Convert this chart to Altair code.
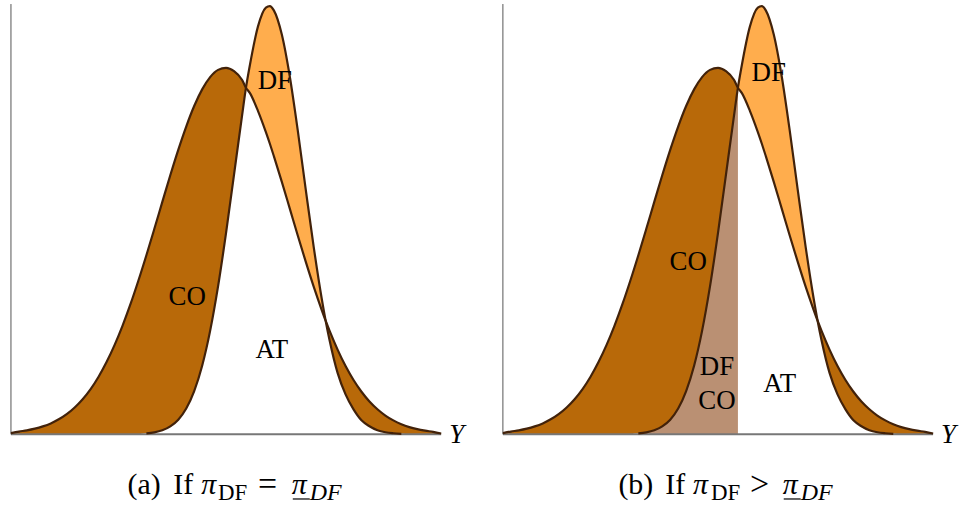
import altair as alt
import pandas as pd

# ---- data (horizontal position along Y, curve heights) ----
xs = [0, 8, 16, 24, 32, 40, 48, 56, 64, 72, 80, 88, 96, 104, 112, 120, 128, 136,
      144, 152, 160, 168, 176, 184, 192, 200, 208, 216, 224, 232, 236, 240, 248,
      256, 260, 264, 272, 280, 288, 296, 304, 312, 316, 320, 328, 336, 344, 352,
      360, 368, 376, 384, 392, 400, 408, 416, 424, 432]

# wide curve (compliers + always-takers density)
wide_curve = [1.2, 2.7, 3.9, 5.6, 7.9, 10.9, 15.0, 20.2, 26.9, 35.2, 45.4, 57.8,
              72.5, 89.5, 108.9, 130.6, 154.4, 179.8, 206.3, 233.3, 260.1, 285.6,
              309.0, 329.6, 346.3, 358.6, 365.9, 368.0, 364.6, 356.0, 348.0, 342.5,
              324.8, 303.4, 291.7, 279.3, 253.5, 226.6, 199.6, 173.3, 148.2, 125.0,
              114.0, 103.8, 85.0, 68.5, 54.5, 42.7, 32.9, 25.1, 18.8, 13.9, 10.1,
              7.2, 5.1, 3.6, 2.4, 0.8]

# narrow curve (defiers + always-takers density)
narrow_curve = [0, 0, 0, 0, 0, 0, 0, 0, 0, 0, 0, 0, 0, 0, 0, 0, 0, 0.9,
                1.9, 4.0, 7.9, 14.6, 25.8, 43.3, 68.8, 103.8, 148.7, 202.2, 260.8,
                319.4, 348.0, 371.1, 409.3, 428.4, 430.0, 425.6, 401.3, 359.2,
                305.1, 245.9, 188.2, 136.6, 114.0, 94.2, 61.6, 40.0, 25.0, 14.0,
                8.0, 4.0, 2.0, 1.0, 0.4, 0, 0, 0, 0, 0]

cutoff = 236  # crossing of the curves (used in panel b)
y_top = 432   # top of the vertical axis

labels_a = ["DF", "CO", "AT"]
labels_b = ["DF", "CO", "DF", "CO", "AT"]
axis_label = "Y"

BROWN = "#b86909"
ORANGE = "#ffad4d"
TAN = "#ba9073"
STROKE = "#42220a"
FONT = "Liberation Serif, DejaVu Serif, serif"

df = pd.DataFrame({"x": xs, "w": wide_curve, "n": narrow_curve})
axes_df = pd.DataFrame({"x0": [min(xs)], "x1": [max(xs)], "y0": [0], "y1": [y_top]})


def panel(width, labels_pos, caption, with_tan):
    xsc = alt.Scale(domain=[-10, width - 10], zero=False, nice=False)
    ysc = alt.Scale(domain=[-74, 432], zero=False, nice=False)
    base = alt.Chart(df).transform_calculate(zero="0", lo="min(datum.w, datum.n)")
    X = alt.X("x:Q", scale=xsc, axis=None)

    def Y(f):
        return alt.Y(f, type="quantitative", scale=ysc, axis=None)

    layers = []
    layers.append(base.mark_area(color=BROWN, interpolate="monotone").encode(
        x=X, y=Y("w"), y2="zero:Q"))
    layers.append(base.mark_area(color=ORANGE, interpolate="monotone").encode(
        x=X, y=Y("n"), y2="zero:Q"))
    layers.append(base.mark_area(color="white", interpolate="monotone").encode(
        x=X, y=Y("lo"), y2="zero:Q"))
    if with_tan:
        layers.append(base.transform_filter(alt.datum.x <= cutoff)
                      .mark_area(color=TAN, interpolate="monotone").encode(
            x=X, y=Y("n"), y2="zero:Q"))
    # axes
    ax = alt.Chart(axes_df)
    layers.append(ax.mark_rule(color="#777777", strokeWidth=2).encode(
        x=alt.X("x0:Q", scale=xsc, axis=None), x2="x1:Q", y=Y("y0")))
    layers.append(ax.mark_rule(color="#555555", strokeWidth=1).encode(
        x=alt.X("x0:Q", scale=xsc, axis=None), y=Y("y0"), y2="y1:Q"))
    # curves
    layers.append(base.mark_line(color=STROKE, strokeWidth=2.2, interpolate="monotone").encode(
        x=X, y=Y("w")))
    layers.append(base.transform_filter(alt.datum.n > 0)
                  .mark_line(color=STROKE, strokeWidth=2.2, interpolate="monotone").encode(
        x=X, y=Y("n")))

    def txt(t, x, y, size, style="normal", align="center", baseline="middle"):
        return alt.Chart(pd.DataFrame({"t": [t]})).mark_text(
            font=FONT, fontSize=size, fontStyle=style, align=align,
            baseline=baseline, color="black").encode(
            text="t:N", x=alt.value(x), y=alt.value(y))

    for t, (px, py) in labels_pos:
        layers.append(txt(t, px, py, 27))
    layers.append(txt(axis_label, 450, 441, 27, "italic", "left", "alphabetic"))

    for t, px, py, size, style in caption:
        layers.append(txt(t, px, py, size, style, "left", "alphabetic"))
    # underline of pi
    ux = caption[5][1]
    layers.append(alt.Chart(pd.DataFrame({"t": [0]})).mark_rule(
        color="black", strokeWidth=1.2).encode(
        x=alt.value(ux + 1), x2=alt.value(ux + 18), y=alt.value(497)))

    return alt.layer(*layers).properties(width=width, height=506)


cap_a = [("(a)", 127, 492, 30, "normal"), ("If", 173, 492, 30, "normal"),
         ("π", 201, 492, 30, "italic"), ("DF", 218, 498, 23, "normal"),
         ("=", 258, 493, 34, "normal"), ("π", 292, 492, 30, "italic"),
         ("DF", 310, 498, 24, "italic")]
cap_b = [("(b)", 126, 492, 30, "normal"), ("If", 173, 492, 30, "normal"),
         ("π", 201, 492, 30, "italic"), ("DF", 219, 498, 23, "normal"),
         (">", 258, 493, 34, "normal"), ("π", 291, 492, 30, "italic"),
         ("DF", 309, 498, 24, "italic")]

pos_a = list(zip(labels_a, [(275, 77), (187, 294), (272, 347)]))
pos_b = list(zip(labels_b, [(277, 69), (196, 259), (225, 364), (225, 399), (288, 382)]))

chart = alt.hconcat(
    panel(492, pos_a, cap_a, False),
    panel(468, pos_b, cap_b, True),
    spacing=0,
).properties(padding=0).configure_view(stroke="transparent")

chart.save("out.html", embed_options={"renderer": "svg", "actions": False})
